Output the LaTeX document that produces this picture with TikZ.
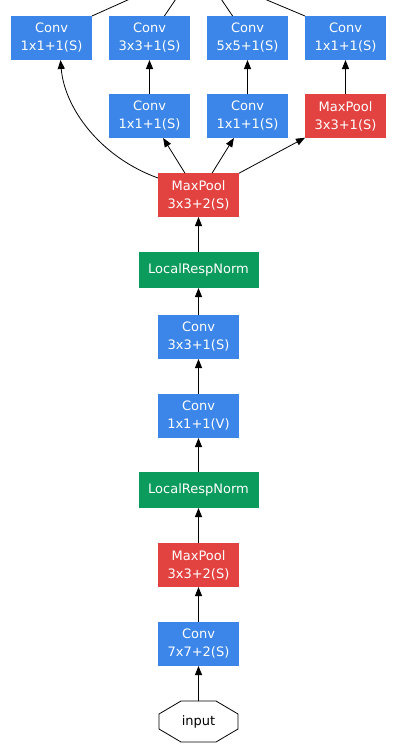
\documentclass[tikz,border=0pt]{standalone}
\usepackage{fontspec}
\setmainfont{DejaVu Sans}
\usetikzlibrary{arrows.meta,positioning}
\definecolor{convblue}{HTML}{3B86E8}
\definecolor{poolred}{HTML}{E24340}
\definecolor{normgreen}{HTML}{0B9B5C}

\begin{document}
\begin{tikzpicture}[x=1pt,y=-1pt,line width=0.8pt,>={Triangle[length=9pt,width=7pt]},node distance=35pt,
  blk/.style={minimum width=81pt,minimum height=44pt,inner sep=0pt,outer sep=0pt,align=center,text=white,font=\fontsize{13}{18}\selectfont},
  conv/.style={blk,fill=convblue},
  pool/.style={blk,fill=poolred},
  lrn/.style={blk,fill=normgreen,minimum width=120pt,minimum height=36pt}]
  \clip (0,0) rectangle (418,744);
  % stem
  \node[minimum width=79pt,minimum height=41pt,inner sep=0pt,outer sep=0pt,font=\fontsize{13}{18}\selectfont] (in) at (198.5,721.5) {input};
  \draw ([xshift=22pt]in.north west) -- ([xshift=-22pt]in.north east) -- ([yshift=-13pt]in.north east)
    -- ([yshift=13pt]in.south east) -- ([xshift=-22pt]in.south east) -- ([xshift=22pt]in.south west)
    -- ([yshift=13pt]in.south west) -- ([yshift=-13pt]in.north west) -- cycle;
  \node[conv,above=of in] (c7) {Conv\\7x7+2(S)};
  \node[pool,above=of c7] (mp2) {MaxPool\\3x3+2(S)};
  \node[lrn,above=of mp2] (lrn2) {LocalRespNorm};
  \node[conv,above=34pt of lrn2] (c1v) {Conv\\1x1+1(V)};
  \node[conv,above=of c1v] (c3) {Conv\\3x3+1(S)};
  \node[lrn,above=27pt of c3] (lrn1) {LocalRespNorm};
  \node[pool,above=of lrn1] (mp1) {MaxPool\\3x3+2(S)};
  % inception branches
  \node[conv,above=of mp1,xshift=-49pt] (m1) {Conv\\1x1+1(S)};
  \node[conv,right=17pt of m1] (m2) {Conv\\1x1+1(S)};
  \node[pool,right=17pt of m2] (m3) {MaxPool\\3x3+1(S)};
  \node[conv,above=34pt of m1] (t2) {Conv\\3x3+1(S)};
  \node[conv,left=17pt of t2] (t1) {Conv\\1x1+1(S)};
  \node[conv,above=34pt of m2] (t3) {Conv\\5x5+1(S)};
  \node[conv,above=34pt of m3] (t4) {Conv\\1x1+1(S)};
  \coordinate (o1) at (150,-10);
  \coordinate (o2) at (182,-10);
  \coordinate (o3) at (215,-10);
  \coordinate (o4) at (243,-10);

  \draw[->] (in) -- (c7);
  \draw[->] (c7) -- (mp2);
  \draw[->] (mp2) -- (lrn2);
  \draw[->] (lrn2) -- (c1v);
  \draw[->] (c1v) -- (c3);
  \draw[->] (c3) -- (lrn1);
  \draw[->] (lrn1) -- (mp1);
  \draw[->] (mp1) -- (m1);
  \draw[->] (mp1) -- (m2);
  \draw[->] (mp1) -- (m3);
  \draw[->] ([yshift=-5pt]mp1.north west) .. controls +(-58,-21) and +(4,48) .. ([xshift=9pt]t1.south);
  \draw[->] (m1) -- (t2);
  \draw[->] (m2) -- (t3);
  \draw[->] (m3) -- (t4);
  \draw (t1.north east) -- (o1);
  \draw (t2) -- (o2);
  \draw (t3) -- (o3);
  \draw (t4.north west) -- (o4);
\end{tikzpicture}
\end{document}
